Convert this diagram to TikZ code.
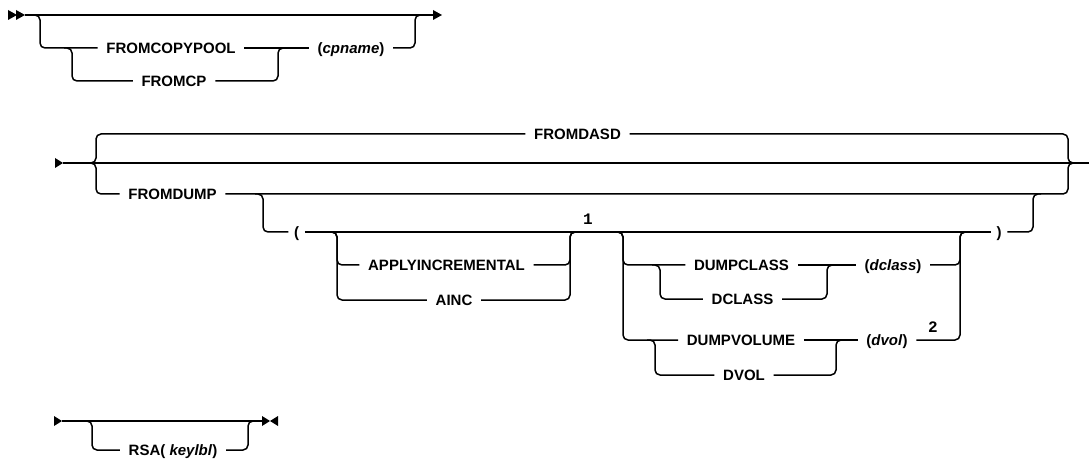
\documentclass[tikz,border=0pt]{standalone}
\usepackage{fontspec}
\newfontfamily\lab{Liberation Sans}
\newfontfamily\supf{Liberation Mono}
\begin{document}
\begin{tikzpicture}[x=1pt,y=-1pt,line width=1.5pt,
  tok/.style={font=\lab\bfseries\fontsize{15}{15}\selectfont, inner xsep=8pt, inner ysep=0pt,
              text height=10.7pt, text depth=0pt, anchor=center},
  rr/.style={rounded corners=5pt},
  note/.style={font=\supf\bfseries\fontsize{16}{16}\selectfont, inner sep=0pt, anchor=center},
  tip/.style={fill=black, draw=none}]
\useasboundingbox (0,0) rectangle (1089,462);

% ---------------- Row 1 ----------------
\coordinate (r1s) at (25,15);
\coordinate (r1e) at (433,15);
\coordinate (b1l) at (40,15);
\coordinate (b1r) at (415,15);
\coordinate (b1i) at (72,48);
\coordinate (b1j) at (278,48);
\node[tok] (fcp)  at (171,48) {FROMCOPYPOOL};
\node[tok] (fcps) at (174,81) {FROMCP};
\node[tok] (cpn)  at (351,48) {(\textit{cpname})};
\fill[tip] (8,10) -- (17,15) -- (8,20) -- cycle;
\fill[tip] (16,10) -- (25,15) -- (16,20) -- cycle;
\fill[tip] (r1e) ++(0,-5) -- ++(9,5) -- ++(-9,5) -- cycle;
\draw (r1s) -- (r1e);
\draw[rr] ([xshift=-8pt]b1l) -- (b1l) |- (fcp.west);
\draw (fcp.east) -- (cpn.west);
\draw[rr] ([xshift=-8pt]b1i) -- (b1i) |- (fcps.west);
\draw[rr] (fcps.east) -| (b1j) -- ([xshift=8pt]b1j);
\draw[rr] (cpn.east) -| (b1r) -- ([xshift=8pt]b1r);

% ---------------- Row 2 ----------------
\coordinate (r2s) at (63,163);
\coordinate (r2e) at (1089,163);
\coordinate (L2) at (96,163);
\coordinate (R2) at (1068,163);
\node[tok] (fdasd) at (577.5,134) {FROMDASD};
\node[tok] (fdump) at (172.5,194) {FROMDUMP};
\fill[tip] (r2s) ++(-8,-5) -- ++(8,5) -- ++(-8,5) -- cycle;
\draw (r2s) -- (r2e);
\draw[rr] ([xshift=-8pt]L2) -- (L2) |- (fdasd.west);
\draw[rr] ([xshift=-8pt]L2) -- (L2) |- (fdump.west);
\draw[rr] (fdasd.east) -| (R2) -- ([xshift=8pt]R2);
\draw[rr] (fdump.east) -| (R2) -- ([xshift=8pt]R2);

% parenthesised part
\coordinate (P1) at (263,194);
\coordinate (P2) at (1033,194);
\node[tok,inner xsep=5pt] (lp) at (296.5,232) {(};
\node[tok,inner xsep=5pt] (rp) at (999,232) {)};
\draw[rr] ([xshift=-8pt]P1) -- (P1) |- (lp.west);
\draw (lp.east) -- (rp.west);
\draw[rr] (rp.east) -| (P2) -- ([xshift=8pt]P2);

% APPLYINCREMENTAL group
\coordinate (A1) at (337,232);
\coordinate (A2) at (570,232);
\node[tok] (apply) at (446.5,265) {APPLYINCREMENTAL};
\node[tok] (ainc)  at (454,300) {AINC};
\draw[rr] ([xshift=-8pt]A1) -- (A1) |- (apply.west);
\draw[rr] ([xshift=-8pt]A1) -- (A1) |- (ainc.west);
\draw[rr] (apply.east) -| (A2) -- ([xshift=8pt]A2);
\draw[rr] (ainc.east) -| (A2) -- ([xshift=8pt]A2);
\node[note] (n1) at (588,219) {1};

% DUMPCLASS / DUMPVOLUME group
\coordinate (D1) at (623,232);
\coordinate (D2) at (960,232);
\coordinate (D3) at (660,265);
\coordinate (D4) at (827,265);
\coordinate (D5) at (655,340);
\coordinate (D6) at (836,340);
\node[tok] (dcls)  at (741.5,265) {DUMPCLASS};
\node[tok] (dc)    at (742.5,299) {DCLASS};
\node[tok] (dclp)  at (893,265) {(\textit{dclass})};
\node[tok] (dvol)  at (741,340) {DUMPVOLUME};
\node[tok] (dv)    at (744,375) {DVOL};
\node[tok] (dvolp) at (887,340) {(\textit{dvol})};
\node[note] (n2) at (933,327) {2};
\draw[rr] ([xshift=-8pt]D1) -- (D1) |- (dcls.west);
\draw[rr] ([xshift=-8pt]D1) -- (D1) |- (dvol.west);
\draw (dcls.east) -- (dclp.west);
\draw[rr] ([xshift=-8pt]D3) -- (D3) |- (dc.west);
\draw[rr] (dc.east) -| (D4) -- ([xshift=8pt]D4);
\draw[rr] (dclp.east) -| (D2) -- ([xshift=8pt]D2);
\draw (dvol.east) -- (dvolp.west);
\draw[rr] ([xshift=-8pt]D5) -- (D5) |- (dv.west);
\draw[rr] (dv.east) -| (D6) -- ([xshift=8pt]D6);
\draw[rr] (dvolp.east) -| (D2) -- ([xshift=8pt]D2);

% ---------------- Row 3 ----------------
\coordinate (r3s) at (62,421);
\coordinate (r3e) at (262,421);
\coordinate (Q1) at (92,421);
\coordinate (Q2) at (248,421);
\node[tok] (rsa) at (173,450) {RSA(\textit{ keylbl})};
\fill[tip] (r3s) ++(-8,-5) -- ++(8,5) -- ++(-8,5) -- cycle;
\fill[tip] (r3e) ++(0,-5) -- ++(8,5) -- ++(-8,5) -- cycle;
\fill[tip] (r3e) ++(16,-5) -- ++(-8,5) -- ++(8,5) -- cycle;
\draw (r3s) -- (r3e);
\draw[rr] ([xshift=-8pt]Q1) -- (Q1) |- (rsa.west);
\draw[rr] (rsa.east) -| (Q2) -- ([xshift=8pt]Q2);
\end{tikzpicture}
\end{document}
